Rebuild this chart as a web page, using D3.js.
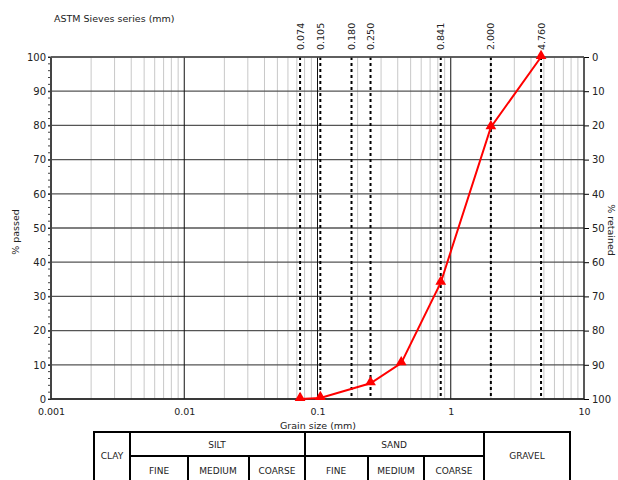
<!DOCTYPE html>
<html lang="en">
<head>
<meta charset="utf-8">
<title>Grain size distribution</title>
<script src="https://d3js.org/d3.v7.min.js"></script>
<style>
  body { margin: 0; background: #fff; }
  text { font-family: "DejaVu Sans", Verdana, sans-serif; fill: #222; }
</style>
</head>
<body>
<script>
// data
const sieveSizes = [0.074, 0.105, 0.180, 0.250, 0.841, 2.000, 4.760];
const sampleSizes = [0.074, 0.105, 0.250, 0.425, 0.841, 2.000, 4.760];
const samplePassed = [0, 0.3, 4.6, 10.5, 34, 79.5, 100];
const xTicks = [0.001, 0.01, 0.1, 1, 10];
const yTicks = [0, 10, 20, 30, 40, 50, 60, 70, 80, 90, 100];

const W = 618, H = 480;
const pLeft = 51, pRight = 584, pTop = 57, pBottom = 399;

const svg = d3.select("body").append("svg")
  .attr("width", W).attr("height", H);

const x = d3.scaleLog().domain([0.001, 10]).range([pLeft, pRight]);
const y = d3.scaleLinear().domain([0, 100]).range([pBottom, pTop]);
const yR = d3.scaleLinear().domain([100, 0]).range([pBottom, pTop]);

// minor vertical grid
const minor = [];
for (let d = 0.001; d < 10; d *= 10) {
  for (let k = 2; k <= 9; k++) minor.push(d * k);
}
svg.append("g").selectAll("line").data(minor).enter().append("line")
  .attr("x1", d => x(d)).attr("x2", d => x(d))
  .attr("y1", pTop).attr("y2", pBottom)
  .attr("stroke", "#c8c8c8").attr("stroke-width", 1);

// horizontal grid
svg.append("g").selectAll("line").data(yTicks).enter().append("line")
  .attr("x1", pLeft).attr("x2", pRight)
  .attr("y1", d => y(d)).attr("y2", d => y(d))
  .attr("stroke", "#555").attr("stroke-width", 1.3);

// major vertical grid
svg.append("g").selectAll("line").data(xTicks.slice(1, -1)).enter().append("line")
  .attr("x1", d => x(d)).attr("x2", d => x(d))
  .attr("y1", pTop).attr("y2", pBottom)
  .attr("stroke", "#111").attr("stroke-width", 1);

// sieve lines
svg.append("g").selectAll("line").data(sieveSizes).enter().append("line")
  .attr("x1", d => x(d)).attr("x2", d => x(d))
  .attr("y1", pTop).attr("y2", pBottom)
  .attr("stroke", "#000").attr("stroke-width", 2)
  .attr("stroke-dasharray", "3,3");

// sieve labels
svg.append("g").selectAll("text").data(sieveSizes).enter().append("text")
  .attr("transform", d => "translate(" + (x(d) + 3.5) + ",50) rotate(-90)")
  .attr("font-size", "9.5px")
  .text(d => d.toFixed(3));

svg.append("text").attr("x", 54).attr("y", 22)
  .attr("font-size", "9.5px").text("ASTM Sieves series (mm)");

// left axis
const leftAxis = d3.axisLeft(y).tickValues(yTicks).tickSize(3).tickPadding(2);
const gl = svg.append("g").attr("transform", "translate(" + pLeft + ",0)").call(leftAxis);
gl.selectAll("text").attr("font-size", "10px");
gl.select(".domain").remove();
svg.append("g").selectAll("line").data(d3.range(0, 101, 2)).enter().append("line")
  .attr("x1", pLeft - 3).attr("x2", pLeft)
  .attr("y1", d => y(d)).attr("y2", d => y(d))
  .attr("stroke", "#444");
svg.append("line").attr("x1", pLeft).attr("x2", pLeft).attr("y1", pTop).attr("y2", pBottom)
  .attr("stroke", "#444").attr("stroke-width", 2);

// right axis
const rightAxis = d3.axisRight(yR).tickValues(yTicks).tickSize(5).tickPadding(3);
const gr = svg.append("g").attr("transform", "translate(" + pRight + ",0)").call(rightAxis);
gr.selectAll("text").attr("font-size", "10px");
gr.select(".domain").remove();
svg.append("line").attr("x1", pRight).attr("x2", pRight).attr("y1", pTop).attr("y2", pBottom)
  .attr("stroke", "#222").attr("stroke-width", 1.5);

// bottom axis
const bottomAxis = d3.axisBottom(x).tickValues(xTicks).tickSize(0).tickPadding(9)
  .tickFormat(d => String(d));
const gb = svg.append("g").attr("transform", "translate(0," + pBottom + ")").call(bottomAxis);
gb.selectAll("text").attr("font-size", "9.5px");
gb.select(".domain").remove();
svg.append("line").attr("x1", pLeft).attr("x2", pRight).attr("y1", pBottom).attr("y2", pBottom)
  .attr("stroke", "#222").attr("stroke-width", 1.5);
svg.append("line").attr("x1", pLeft).attr("x2", pRight).attr("y1", pTop).attr("y2", pTop)
  .attr("stroke", "#555").attr("stroke-width", 1.5);

// axis titles
svg.append("text").attr("x", 318).attr("y", 429).attr("text-anchor", "middle")
  .attr("font-size", "9.5px").text("Grain size (mm)");
svg.append("text").attr("transform", "translate(19,232) rotate(-90)")
  .attr("text-anchor", "middle").attr("font-size", "9.5px").text("% passed");
svg.append("text").attr("transform", "translate(608,230) rotate(90)")
  .attr("text-anchor", "middle").attr("font-size", "9.5px").text("% retained");

// curve
const pts = sampleSizes.map((s, i) => [s, samplePassed[i]]);
svg.append("path").datum(pts)
  .attr("fill", "none").attr("stroke", "#ff0000").attr("stroke-width", 2)
  .attr("d", d3.line().x(d => x(d[0])).y(d => y(d[1])));
svg.append("g").selectAll("path").data(pts).enter().append("path")
  .attr("d", d3.symbol().type(d3.symbolTriangle).size(50))
  .attr("transform", d => "translate(" + x(d[0]) + "," + (y(d[1]) - 1) + ")")
  .attr("fill", "#ff0000");

// soil classification table
const tb = svg.append("g").attr("fill", "none").attr("stroke", "#000").attr("stroke-width", 2);
const tTop = 432, tMid = 456, tBot = 490;
tb.append("rect").attr("x", 94).attr("y", tTop).attr("width", 476).attr("height", tBot - tTop);
[130, 305, 484].forEach(v => tb.append("line").attr("x1", v).attr("x2", v).attr("y1", tTop).attr("y2", tBot));
[188, 249, 368, 424].forEach(v => tb.append("line").attr("x1", v).attr("x2", v).attr("y1", tMid).attr("y2", tBot));
tb.append("line").attr("x1", 130).attr("x2", 484).attr("y1", tMid).attr("y2", tMid);

const cells = [
  ["CLAY", 112, 459], ["SILT", 217, 448], ["SAND", 394, 448], ["GRAVEL", 527, 459],
  ["FINE", 159, 474], ["MEDIUM", 218, 474], ["COARSE", 277, 474],
  ["FINE", 336, 474], ["MEDIUM", 396, 474], ["COARSE", 454, 474]
];
svg.append("g").selectAll("text").data(cells).enter().append("text")
  .attr("x", d => d[1]).attr("y", d => d[2]).attr("text-anchor", "middle")
  .attr("font-size", "9px").text(d => d[0]);
</script>
</body>
</html>
